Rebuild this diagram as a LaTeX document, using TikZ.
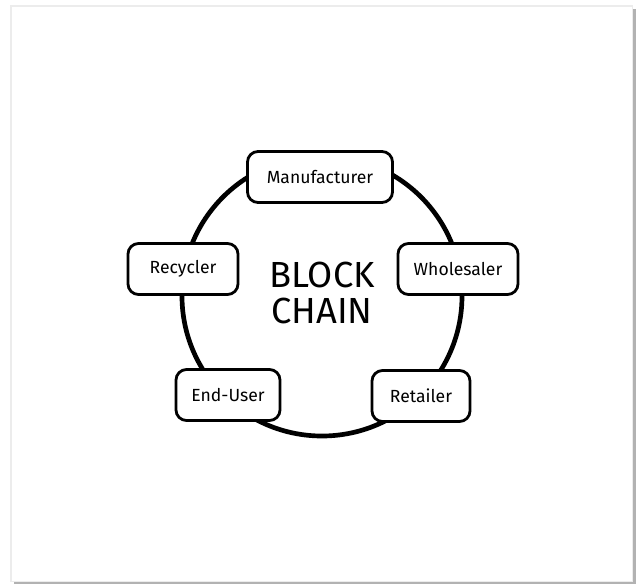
\documentclass[tikz,border=0pt]{standalone}
\usepackage{fontspec}
\setmainfont{Fira Sans}
\begin{document}
\begin{tikzpicture}[x=0.03cm, y=-0.03cm, box/.style = {draw, line width=2.4pt, rounded corners=9pt, fill=white, minimum height=1.53cm, font=\fontsize{15}{17}\selectfont}, ring/.style = {draw, circle, line width=4pt, minimum size=8.4cm}]
  \useasboundingbox (0, 0) rectangle (636, 584);
  % card with shadow
  \fill[gray!60] (14, 9) rectangle (636, 584);
  \fill[gray!15] (10, 5) rectangle (633, 582);
  \fill[white] (12, 7) rectangle (632, 581);
  \node[ring] at (322, 296) (chain) {};
  \node[font=\fontsize{31}{31}\selectfont, align=center, inner sep=0pt] at (322, 293) (title) {BLOCK\\CHAIN};
  \node[box, minimum width=4.35cm] at (320, 177) (manufacturer) {Manufacturer};
  \node[box, minimum width=3.6cm] at (458, 269) (wholesaler) {Wholesaler};
  \node[box, minimum width=2.94cm] at (421, 396) (retailer) {Retailer};
  \node[box, minimum width=3.12cm] at (228, 395) (enduser) {End-User};
  \node[box, minimum width=3.3cm] at (183, 269) (recycler) {Recycler};
\end{tikzpicture}
\end{document}
